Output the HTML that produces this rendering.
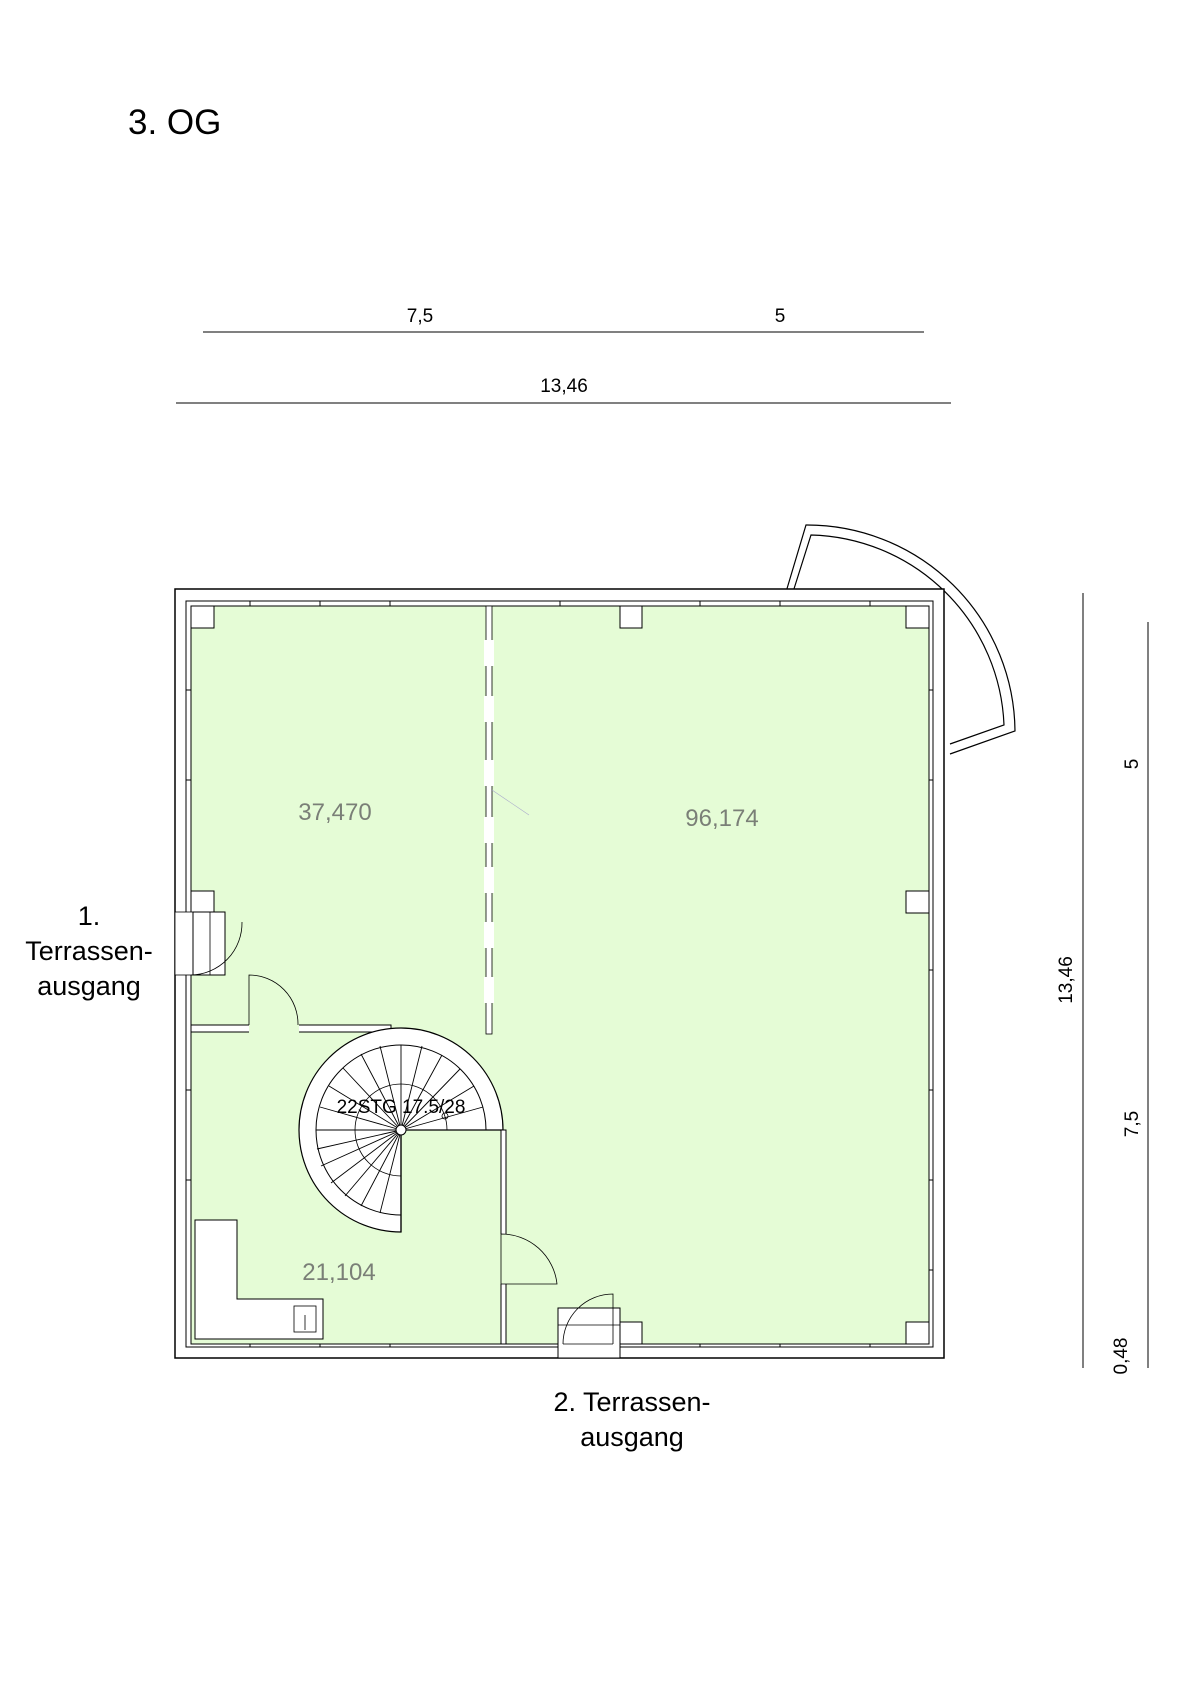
<!DOCTYPE html>
<html><head><meta charset="utf-8"><style>
html,body{margin:0;padding:0;background:#fff}
svg{display:block}
text{font-family:"Liberation Sans",sans-serif}
</style></head><body>
<svg width="1200" height="1697" viewBox="0 0 1200 1697" xmlns="http://www.w3.org/2000/svg">
<text x="128" y="134" font-size="35">3. OG</text>
<!-- dimensions -->
<line x1="203" y1="332" x2="924" y2="332" stroke="#000" stroke-width="1"/>
<text x="420" y="322" font-size="19" text-anchor="middle">7,5</text>
<text x="780" y="322" font-size="19" text-anchor="middle">5</text>
<line x1="176" y1="403" x2="951" y2="403" stroke="#000" stroke-width="1"/>
<text x="564" y="392" font-size="19" text-anchor="middle">13,46</text>
<line x1="1083" y1="593" x2="1083" y2="1368" stroke="#000"/>
<line x1="1148" y1="622" x2="1148" y2="1368" stroke="#000"/>
<text font-size="19" text-anchor="middle" transform="translate(1138,764) rotate(-90)">5</text>
<text font-size="19" text-anchor="middle" transform="translate(1138,1124) rotate(-90)">7,5</text>
<text font-size="19" text-anchor="middle" transform="translate(1127,1356) rotate(-90)">0,48</text>
<text font-size="19" text-anchor="middle" transform="translate(1072,980) rotate(-90)">13,46</text>
<!-- balcony arc -->
<path d="M786 592 L806 525 A208 208 0 0 1 1015 731 L950 754" fill="none" stroke="#000" stroke-width="1.2"/>
<path d="M793 592 L811 535 A198 198 0 0 1 1004 725 L950 744" fill="none" stroke="#000" stroke-width="1.2"/>
<!-- outer walls -->
<rect x="175" y="589" width="769" height="769" fill="#fff" stroke="#000" stroke-width="1.5"/>
<rect x="186" y="601" width="747" height="746" fill="#fff" stroke="#000" stroke-width="1"/>
<rect x="191" y="606" width="738" height="738" fill="#e5fcd6" stroke="#000" stroke-width="1"/>
<!-- wall ticks -->
<g stroke="#000" stroke-width="1">
<line x1="250" y1="601" x2="250" y2="606"/><line x1="320" y1="601" x2="320" y2="606"/><line x1="390" y1="601" x2="390" y2="606"/><line x1="560" y1="601" x2="560" y2="606"/><line x1="700" y1="601" x2="700" y2="606"/><line x1="780" y1="601" x2="780" y2="606"/><line x1="870" y1="601" x2="870" y2="606"/>
<line x1="250" y1="1344" x2="250" y2="1347"/><line x1="320" y1="1344" x2="320" y2="1347"/><line x1="390" y1="1344" x2="390" y2="1347"/><line x1="700" y1="1344" x2="700" y2="1347"/><line x1="780" y1="1344" x2="780" y2="1347"/><line x1="870" y1="1344" x2="870" y2="1347"/>
<line x1="186" y1="690" x2="191" y2="690"/><line x1="186" y1="780" x2="191" y2="780"/><line x1="186" y1="1090" x2="191" y2="1090"/><line x1="186" y1="1180" x2="191" y2="1180"/>
<line x1="929" y1="690" x2="933" y2="690"/><line x1="929" y1="780" x2="933" y2="780"/><line x1="929" y1="970" x2="933" y2="970"/><line x1="929" y1="1090" x2="933" y2="1090"/><line x1="929" y1="1180" x2="933" y2="1180"/><line x1="929" y1="1270" x2="933" y2="1270"/>
</g>
<!-- pillars -->
<g fill="#fff" stroke="#000" stroke-width="1">
<rect x="191" y="606" width="23" height="22"/><rect x="620" y="606" width="22" height="22"/><rect x="906" y="606" width="23" height="22"/>
<rect x="191" y="891" width="23" height="22"/><rect x="906" y="891" width="23" height="22"/>
<rect x="620" y="1322" width="22" height="22"/><rect x="906" y="1322" width="23" height="22"/>
</g>
<!-- divider -->
<rect x="486" y="606" width="6" height="428" fill="#fff" stroke="#000" stroke-width="0.8"/>
<g fill="#fff"><rect x="484" y="640" width="10" height="26"/><rect x="484" y="696" width="10" height="26"/><rect x="484" y="760" width="10" height="26"/><rect x="484" y="817" width="10" height="26"/><rect x="484" y="867" width="10" height="26"/><rect x="484" y="922" width="10" height="26"/><rect x="484" y="977" width="10" height="26"/></g>
<line x1="492" y1="790" x2="529" y2="815" stroke="#aac" stroke-width="0.6"/>
<!-- horizontal wall -->
<rect x="191" y="1025" width="200" height="7" fill="#fff" stroke="#000" stroke-width="1"/>
<rect x="249" y="1020" width="50" height="14" fill="#e5fcd6"/>
<path d="M249 1025 V975 A49 49 0 0 1 298 1025" fill="none" stroke="#000" stroke-width="0.8"/>
<line x1="191" y1="1032" x2="249" y2="1032" stroke="#000"/>
<!-- stair -->
<path d="M401 1232 A102 102 0 1 1 503 1130 L401 1130 Z" fill="#fff" stroke="#000" stroke-width="1.2"/>
<path d="M401 1215 A85 85 0 1 1 486 1130" fill="none" stroke="#000" stroke-width="1"/>
<path d="M401 1176 A46 46 0 1 1 447 1130" fill="none" stroke="#000" stroke-width="0.8"/>
<path d="M401 1130 L316 1130 M401 1130 L317 1149 M401 1130 L321 1166 M401 1130 L331 1183 M401 1130 L345 1196 M401 1130 L361 1206 M401 1130 L380 1213 M401 1130 L320 1107 M401 1130 L329 1086 M401 1130 L343 1068 M401 1130 L361 1054 M401 1130 L380 1046 M401 1130 L401 1045 M401 1130 L422 1046 M401 1130 L442 1055 M401 1130 L460 1069 M401 1130 L474 1086 M401 1130 L483 1107" stroke="#000" stroke-width="0.9"/>
<line x1="401" y1="1130" x2="401" y2="1232" stroke="#000" stroke-width="1.2"/>
<circle cx="401" cy="1130" r="5" fill="#fff" stroke="#000"/>
<circle cx="445" cy="1116" r="3" fill="none" stroke="#000" stroke-width="0.8"/>
<text x="401" y="1113" font-size="19" text-anchor="middle">22STG 17.5/28</text>
<!-- vertical wall right of stair -->
<rect x="501" y="1130" width="5" height="214" fill="#fff" stroke="#000" stroke-width="1"/>
<rect x="498" y="1234" width="12" height="50" fill="#e5fcd6"/>
<path d="M501 1234 V1284 H557 A56 56 0 0 0 501 1234" fill="none" stroke="#000" stroke-width="0.8"/>
<line x1="506" y1="1284" x2="506" y2="1344" stroke="#000"/>
<!-- kitchen -->
<path d="M195 1220 H237 V1299 H323 V1339 H195 Z" fill="#fff" stroke="#000" stroke-width="1"/>
<rect x="294" y="1306" width="22" height="26" fill="none" stroke="#000" stroke-width="0.8"/>
<line x1="305" y1="1315" x2="305" y2="1330" stroke="#000" stroke-width="0.8"/>
<!-- left terrace door -->
<rect x="175" y="912" width="18" height="63" fill="#fff" stroke="#000" stroke-width="0.8"/>
<rect x="193" y="912" width="32" height="63" fill="#fff" stroke="#000" stroke-width="1"/>
<line x1="210" y1="912" x2="210" y2="975" stroke="#000" stroke-width="0.8"/>
<path d="M191 975 A52 52 0 0 0 242 922" fill="none" stroke="#000" stroke-width="0.8"/>
<!-- bottom terrace door -->
<rect x="558" y="1308" width="62" height="50" fill="#fff" stroke="#000" stroke-width="1"/>
<line x1="558" y1="1325" x2="620" y2="1325" stroke="#000" stroke-width="0.8"/>
<line x1="563" y1="1344" x2="613" y2="1344" stroke="#000" stroke-width="0.8"/>
<path d="M563 1344 A50 50 0 0 1 613 1294 V1344" fill="none" stroke="#000" stroke-width="0.8"/>
<!-- area labels -->
<g fill="#7a7f77" font-size="24" text-anchor="middle">
<text x="335" y="820">37,470</text><text x="722" y="826">96,174</text><text x="339" y="1280">21,104</text>
</g>
<g font-size="27" text-anchor="middle">
<text x="89" y="925">1.</text><text x="89" y="960">Terrassen-</text><text x="89" y="995">ausgang</text>
<text x="632" y="1411">2. Terrassen-</text><text x="632" y="1446">ausgang</text>
</g>
</svg>
</body></html>
